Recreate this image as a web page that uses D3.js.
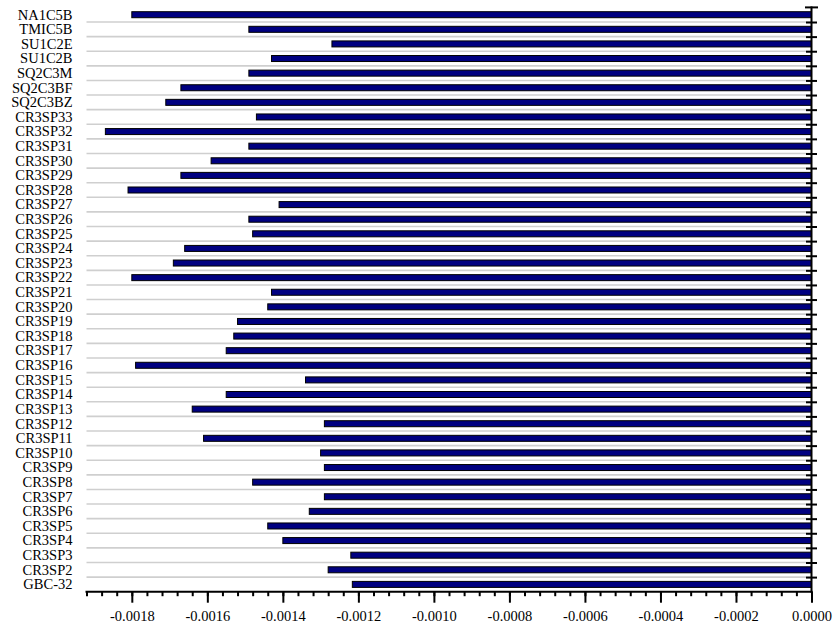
<!DOCTYPE html>
<html>
<head>
<meta charset="utf-8">
<script src="https://cdn.jsdelivr.net/npm/d3@7"></script>
<style>
  html, body { margin: 0; padding: 0; background: #fff; }
  svg { display: block; }
</style>
</head>
<body>
<svg id="chart" width="834" height="628"></svg>
<script>
const categories = ["NA1C5B","TMIC5B","SU1C2E","SU1C2B","SQ2C3M","SQ2C3BF","SQ2C3BZ",
  "CR3SP33","CR3SP32","CR3SP31","CR3SP30","CR3SP29","CR3SP28","CR3SP27","CR3SP26",
  "CR3SP25","CR3SP24","CR3SP23","CR3SP22","CR3SP21","CR3SP20","CR3SP19","CR3SP18",
  "CR3SP17","CR3SP16","CR3SP15","CR3SP14","CR3SP13","CR3SP12","CR3SP11","CR3SP10",
  "CR3SP9","CR3SP8","CR3SP7","CR3SP6","CR3SP5","CR3SP4","CR3SP3","CR3SP2","GBC-32"];
const values = [-0.00180,-0.00149,-0.00127,-0.00143,-0.00149,-0.00167,-0.00171,
  -0.00147,-0.00187,-0.00149,-0.00159,-0.00167,-0.00181,-0.00141,-0.00149,
  -0.00148,-0.00166,-0.00169,-0.00180,-0.00143,-0.00144,-0.00152,-0.00153,
  -0.00155,-0.00179,-0.00134,-0.00155,-0.00164,-0.00129,-0.00161,-0.00130,
  -0.00129,-0.00148,-0.00129,-0.00133,-0.00144,-0.00140,-0.00122,-0.00128,-0.001216];
const tickValues = [-0.0018,-0.0016,-0.0014,-0.0012,-0.0010,-0.0008,-0.0006,-0.0004,-0.0002,0];
const tickLabels = ["-0.0018","-0.0016","-0.0014","-0.0012","-0.0010","-0.0008","-0.0006","-0.0004","-0.0002","0.0000"];
const xDomain = [-0.00192, 0];
const minorStep = 0.00004;

const svg = d3.select("#chart");
const mLeft = 86.5, mRight = 811.5, mTop = 7.4, mBottom = 591.7;

const x = d3.scaleLinear().domain(xDomain).range([mLeft, mRight]);
const y = d3.scaleBand().domain(categories).range([mTop, mBottom]).paddingInner(0).paddingOuter(0);
const bw = y.bandwidth();
const barH = 6;

// gridlines at category boundaries
svg.append("g").selectAll("line")
  .data(categories.slice(1))
  .join("line")
  .attr("x1", mLeft).attr("x2", mRight)
  .attr("y1", d => y(d)).attr("y2", d => y(d))
  .attr("stroke", "#cfcfcf").attr("stroke-width", 1.6);

// bars
svg.append("g").selectAll("rect")
  .data(categories.map((c, i) => ({c, v: values[i]})))
  .join("rect")
  .attr("x", d => x(d.v))
  .attr("width", d => x(0) - x(d.v))
  .attr("y", d => y(d.c) + bw / 2 - barH / 2)
  .attr("height", barH)
  .attr("fill", "#000080")
  .attr("stroke", "#000")
  .attr("stroke-width", 1);

// category labels
svg.append("g").selectAll("text")
  .data(categories)
  .join("text")
  .attr("x", 72.5)
  .attr("y", d => y(d) + bw / 2 + 4.8)
  .attr("text-anchor", "end")
  .attr("font-family", "'Liberation Serif', 'Times New Roman', serif")
  .attr("font-size", "14.5px")
  .attr("fill", "#000")
  .text(d => d);

// right axis (category boundaries)
const yBound = d3.scaleLinear().domain([0, categories.length]).range([mTop, mBottom]);
const boundTicks = d3.range(1, categories.length);
const rAxis = svg.append("g")
  .attr("transform", `translate(${mRight},0)`)
  .call(d3.axisRight(yBound).tickValues(boundTicks).tickSize(5.5).tickFormat(""));
rAxis.select(".domain").remove();
rAxis.selectAll(".tick line").attr("x1", -5.5).attr("stroke", "#000").attr("stroke-width", 2);
svg.append("line").attr("x1", mRight).attr("x2", mRight).attr("y1", mTop - 1).attr("y2", mBottom + 1)
  .attr("stroke", "#000").attr("stroke-width", 2);
svg.append("line").attr("x1", mRight - 6.5).attr("x2", mRight + 6.5).attr("y1", mTop).attr("y2", mTop)
  .attr("stroke", "#000").attr("stroke-width", 2);

// bottom axis: minor ticks
const minorTicks = d3.range(0, Math.round((xDomain[1] - xDomain[0]) / minorStep) + 1)
  .map(i => xDomain[0] + i * minorStep);
const mAxis = svg.append("g")
  .attr("transform", `translate(0,${mBottom})`)
  .call(d3.axisBottom(x).tickValues(minorTicks).tickSize(4.5).tickFormat(""));
mAxis.select(".domain").remove();
mAxis.selectAll(".tick line").attr("stroke", "#000").attr("stroke-width", 2);

// bottom axis: major ticks + labels
const bAxis = svg.append("g")
  .attr("transform", `translate(0,${mBottom})`)
  .call(d3.axisBottom(x).tickValues(tickValues).tickSize(11)
    .tickFormat((d, i) => tickLabels[i]));
bAxis.select(".domain").remove();
bAxis.selectAll(".tick line").attr("stroke", "#000").attr("stroke-width", 2);
bAxis.selectAll(".tick text")
  .attr("y", 29.5).attr("dy", null)
  .attr("font-family", "'Liberation Serif', 'Times New Roman', serif")
  .attr("font-size", "14.5px")
  .attr("fill", "#000");

svg.append("line").attr("x1", mLeft - 1).attr("x2", mRight + 1).attr("y1", mBottom).attr("y2", mBottom)
  .attr("stroke", "#000").attr("stroke-width", 2);
</script>
</body>
</html>
